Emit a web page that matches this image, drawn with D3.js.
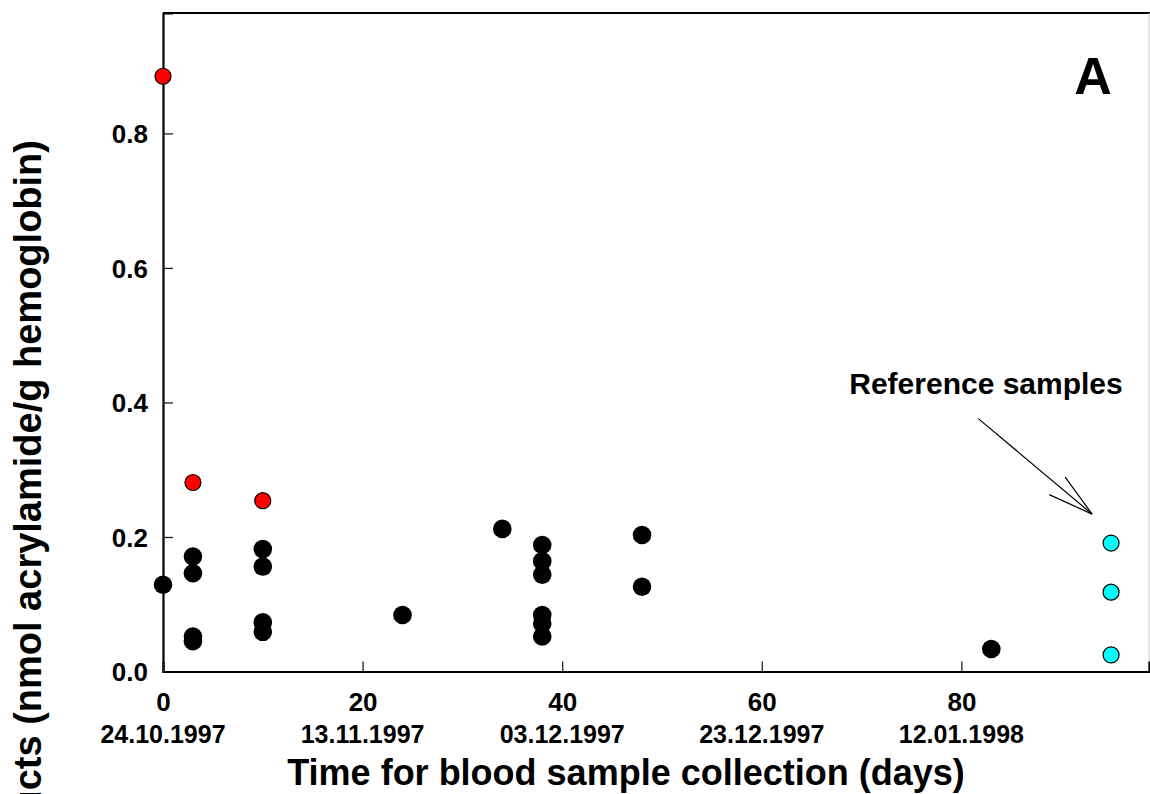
<!DOCTYPE html>
<html>
<head>
<meta charset="utf-8">
<script src="https://cdn.jsdelivr.net/npm/d3@7"></script>
<style>
  html, body { margin: 0; padding: 0; background: #fff; }
  svg { display: block; }
  text { font-family: "Liberation Sans", Arial, sans-serif; font-weight: bold; fill: #000; }
</style>
</head>
<body>
<svg id="chart" width="1150" height="794"></svg>
<script>
// ---- data ----
const xTicks = [0, 20, 40, 60, 80];
const xDateLabels = ["24.10.1997", "13.11.1997", "03.12.1997", "23.12.1997", "12.01.1998"];
const yTicks = [0.0, 0.2, 0.4, 0.6, 0.8];

const exposedDays   = [0, 3, 3, 3, 3, 10, 10, 10, 10, 24, 34, 38, 38, 38, 38, 38, 38, 48, 48, 83];
const exposedValues = [0.129, 0.171, 0.146, 0.052, 0.045, 0.182, 0.156, 0.073, 0.059, 0.084, 0.212,
                       0.188, 0.164, 0.144, 0.084, 0.071, 0.052, 0.203, 0.126, 0.0335];

const highDays   = [0, 3, 10];
const highValues = [0.885, 0.281, 0.254];

const referenceDays   = [95, 95, 95];
const referenceValues = [0.191, 0.118, 0.0246];

const xTitle = "Time for blood sample collection (days)";
const yTitle = "Hemoglobin adducts (nmol acrylamide/g hemoglobin)";
const panelLabel = "A";
const annotationText = "Reference samples";
// arrow in data coordinates: [day, value]
const arrowStart = [81.7, 0.376];
const arrowTip   = [93.1, 0.234];
const arrowHeadA = [90.4, 0.289];
const arrowHeadB = [88.8, 0.263];

// ---- layout ----
const svg = d3.select("#chart");
const pLeft = 163, pRight = 1149, pTop = 13, pBottom = 671.5;
const x = d3.scaleLinear().domain([0, 98.8]).range([pLeft, pRight]);
const y = d3.scaleLinear().domain([0, 0.979]).range([pBottom, pTop]);

// frame: top & right borders
svg.append("line").attr("x1", pLeft).attr("x2", 1150).attr("y1", pTop).attr("y2", pTop)
  .attr("stroke", "#000").attr("stroke-width", 2.2);
svg.append("line").attr("x1", pRight).attr("x2", pRight).attr("y1", pTop).attr("y2", pBottom)
  .attr("stroke", "#ccc").attr("stroke-width", 1);

// y axis
const yAxis = svg.append("g").attr("transform", `translate(${pLeft},0)`)
  .call(d3.axisLeft(y).tickValues(yTicks).tickFormat(d3.format(".1f")).tickSize(-10).tickPadding(15));
yAxis.select(".domain").attr("stroke", "#000").attr("stroke-width", 2.2);
yAxis.selectAll(".tick line").attr("stroke", "#222").attr("stroke-width", 1.3);
yAxis.selectAll(".tick text").style("font-size", "26px").attr("dy", "0.36em");

// x axis
const xAxis = svg.append("g").attr("transform", `translate(0,${pBottom})`)
  .call(d3.axisBottom(x).tickValues(xTicks).tickFormat(d3.format("d")).tickSize(-10).tickPadding(21));
xAxis.select(".domain").attr("stroke", "#000").attr("stroke-width", 2.2);
xAxis.selectAll(".tick line").attr("stroke", "#222").attr("stroke-width", 1.3);
xAxis.selectAll(".tick text").style("font-size", "26px");

// date labels
svg.append("g").selectAll("text").data(xTicks).join("text")
  .attr("x", d => x(d)).attr("y", 743)
  .attr("text-anchor", "middle").style("font-size", "25px")
  .text((d, i) => xDateLabels[i]);

// axis titles
svg.append("text").attr("x", 626).attr("y", 785).attr("text-anchor", "middle")
  .style("font-size", "36px").text(xTitle);
svg.append("text").attr("transform", "translate(41,140) rotate(-90)")
  .attr("text-anchor", "end").style("font-size", "38px").text(yTitle);

// panel label
svg.append("text").attr("x", 1093).attr("y", 94).attr("text-anchor", "middle")
  .style("font-size", "52px").text(panelLabel);

// annotation
svg.append("text").attr("x", 986).attr("y", 394).attr("text-anchor", "middle")
  .style("font-size", "30px").text(annotationText);
const arrowG = svg.append("g").attr("stroke", "#000").attr("stroke-width", 1.2).attr("fill", "none");
[[arrowStart, arrowTip], [arrowHeadA, arrowTip], [arrowHeadB, arrowTip]].forEach(([a, b]) => {
  arrowG.append("line").attr("x1", x(a[0])).attr("y1", y(a[1])).attr("x2", x(b[0])).attr("y2", y(b[1]));
});

// points
svg.append("g").selectAll("circle").data(exposedDays.map((d, i) => [d, exposedValues[i]])).join("circle")
  .attr("cx", d => x(d[0])).attr("cy", d => y(d[1])).attr("r", 9.3).attr("fill", "#000");
svg.append("g").selectAll("circle").data(highDays.map((d, i) => [d, highValues[i]])).join("circle")
  .attr("cx", d => x(d[0])).attr("cy", d => y(d[1])).attr("r", 8)
  .attr("fill", "#ff0000").attr("stroke", "#000").attr("stroke-width", 1.2);
svg.append("g").selectAll("circle").data(referenceDays.map((d, i) => [d, referenceValues[i]])).join("circle")
  .attr("cx", d => x(d[0])).attr("cy", d => y(d[1])).attr("r", 8)
  .attr("fill", "#00ffff").attr("stroke", "#000").attr("stroke-width", 1.2);
</script>
</body>
</html>
